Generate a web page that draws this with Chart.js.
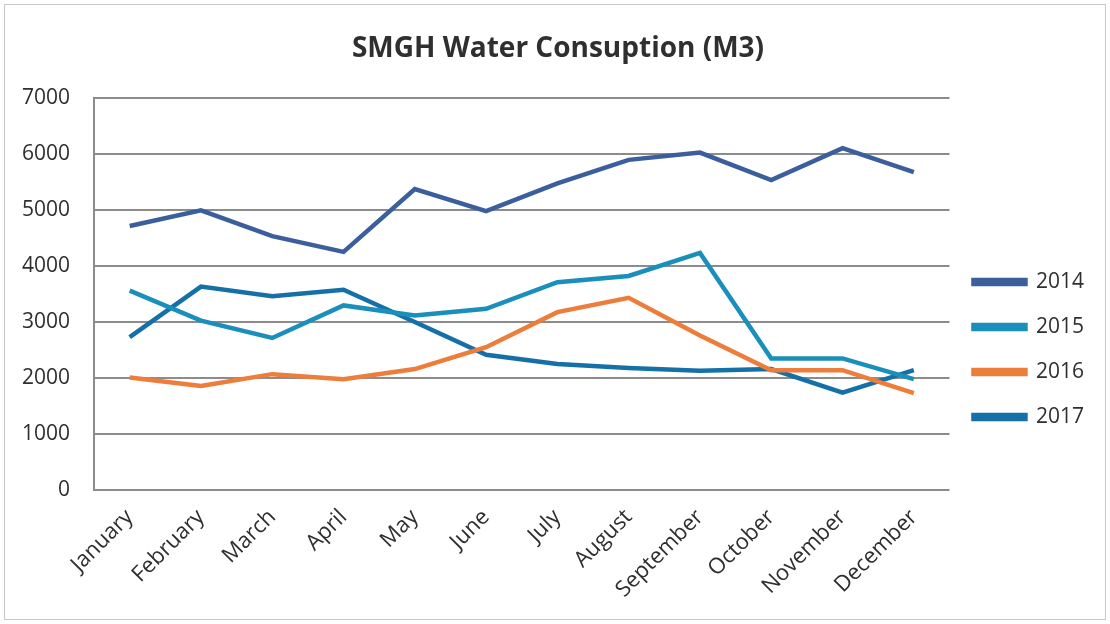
<!DOCTYPE html>
<html>
<head>
<meta charset="utf-8">
<script src="https://cdn.jsdelivr.net/npm/chart.js@4"></script>
<style>
  html, body { margin: 0; padding: 0; background: #fff; }
  #wrap { position: relative; width: 1110px; height: 624px; }
  #frame { position: absolute; left: 4px; top: 4px; width: 1100px; height: 614px; border: 1px solid #c8c8c8; pointer-events: none; }
</style>
</head>
<body>
<div id="wrap">
  <canvas id="waterChart" width="1110" height="624"></canvas>
  <div id="frame"></div>
</div>
<script>
// Dữ liệu
const months = ['January', 'February', 'March', 'April', 'May', 'June',
                'July', 'August', 'September', 'October', 'November', 'December'];
const y2014 = [4710, 4990, 4530, 4250, 5370, 4975, 5470, 5890, 6020, 5530, 6100, 5670];
const y2015 = [3560, 3025, 2715, 3295, 3115, 3235, 3710, 3820, 4230, 2350, 2350, 1980];
const y2016 = [2010, 1860, 2070, 1980, 2160, 2550, 3175, 3430, 2760, 2140, 2140, 1730];
const y2017 = [2730, 3630, 3460, 3575, 3000, 2415, 2250, 2180, 2130, 2160, 1740, 2140];
const yTicks = [0, 1000, 2000, 3000, 4000, 5000, 6000, 7000];

const textColor = '#2f2f2f';
const gridColor = '#8c8c8c';
const font = '"Open Sans", "DejaVu Sans", sans-serif';

function series(label, data, color) {
    return {
        label: label,
        data: data,
        borderColor: color,
        backgroundColor: color,
        borderWidth: 4.5,
        pointRadius: 0,
        tension: 0,
        fill: false
    };
}

const ctx = document.getElementById('waterChart').getContext('2d');
const waterChart = new Chart(ctx, {
    type: 'line',
    data: {
        labels: months,
        datasets: [
            series('2014', y2014, '#3b5f9d'),
            series('2015', y2015, '#1a8fbc'),
            series('2016', y2016, '#ed7d3b'),
            series('2017', y2017, '#1570a8')
        ]
    },
    options: {
        responsive: false,
        animation: false,
        // tắt autoPadding để nhãn xoay không đẩy trục Y vào trong
        layout: { autoPadding: false, padding: { left: 22, right: 16, top: 32, bottom: 7 } },
        plugins: {
            title: {
                display: true,
                text: 'SMGH Water Consuption (M3)',
                color: textColor,
                font: { family: font, size: 28, weight: 'bold' },
                padding: { top: 0, bottom: 32 }
            },
            legend: {
                position: 'right',
                // tiêu đề rỗng để đẩy chú thích xuống giống hình gốc
                title: { display: true, text: ' ', padding: { top: 12, bottom: 13 }, font: { size: 21 } },
                labels: {
                    color: textColor,
                    font: { family: font, size: 21 },
                    boxWidth: 52,
                    boxHeight: 4,
                    padding: 24
                }
            },
            tooltip: { enabled: false }
        },
        scales: {
            x: {
                offset: true,
                grid: { display: false, drawTicks: false },
                border: { display: false },
                ticks: {
                    color: textColor,
                    font: { family: font, size: 22 },
                    minRotation: 45,
                    maxRotation: 45,
                    padding: 14
                }
            },
            y: {
                min: 0,
                max: 7000,
                afterBuildTicks: axis => { axis.ticks = yTicks.map(v => ({ value: v })); },
                // Chart.js cộng padding hai lần vào bề rộng trục, bỏ bớt một lần
                afterFit: axis => { axis.width -= axis.options.ticks.padding; },
                grid: { color: gridColor, lineWidth: 2, drawTicks: false },
                border: { display: true, color: gridColor, width: 2 },
                ticks: {
                    color: textColor,
                    font: { family: font, size: 21 },
                    padding: 24,
                    callback: v => String(v)
                }
            }
        }
    }
});
</script>
</body>
</html>
